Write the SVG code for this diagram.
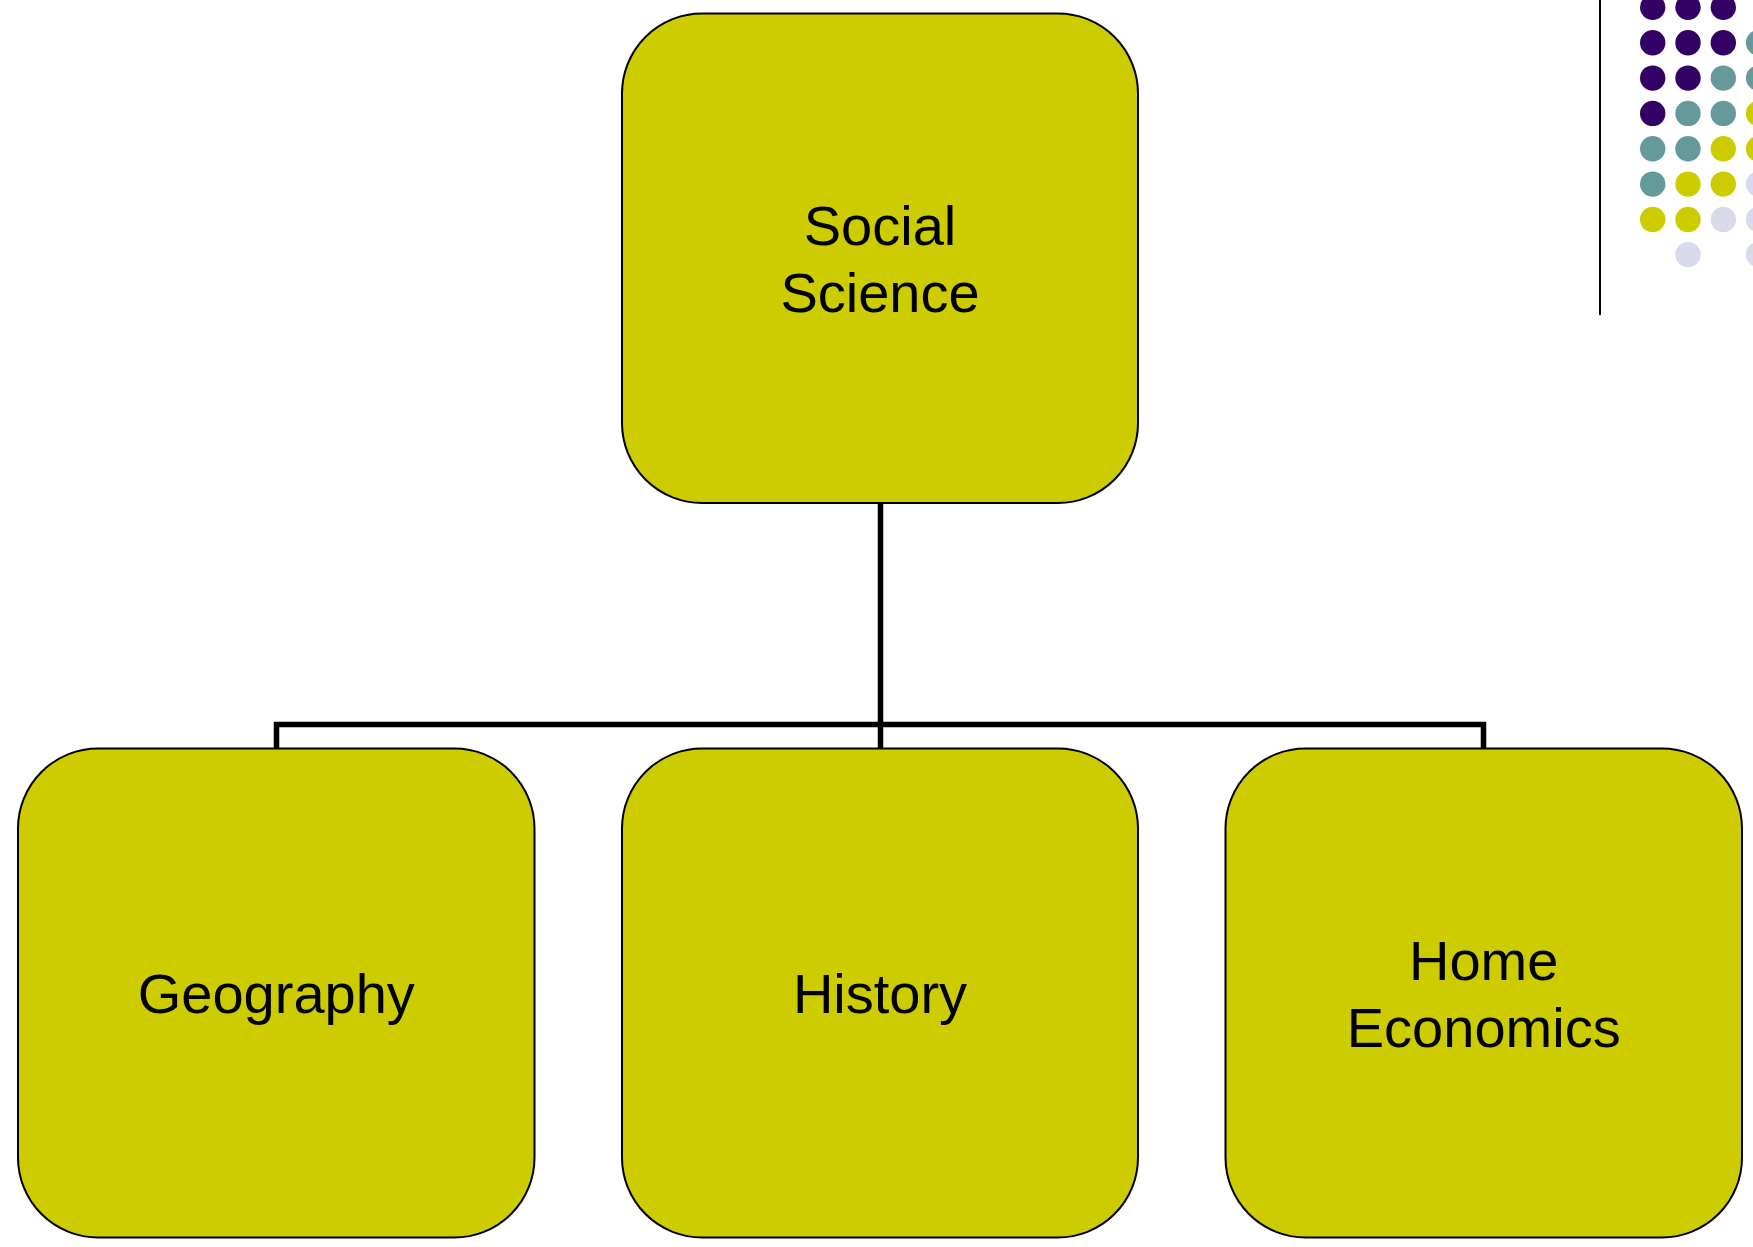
<svg xmlns="http://www.w3.org/2000/svg" width="1753" height="1247" viewBox="0 0 1753 1247">
<style>
.node{fill:#cccc00;stroke:#000;stroke-width:2}
.lbl{font-family:"Liberation Sans",Arial,sans-serif;font-size:56px;fill:#000;text-anchor:middle}
.conn{fill:none;stroke:#000;stroke-width:5.5;stroke-linejoin:miter}
.p{fill:#330066}.t{fill:#669999}.y{fill:#cccc00}.l{fill:#d9d9ec}
</style>
<rect width="1753" height="1247" fill="#fff"/>
<g id="decoration">
<line x1="1600" y1="0" x2="1600" y2="315" stroke="#000" stroke-width="2"/>
<g>
<circle class="p" cx="1652.7" cy="7.3" r="12.7"/><circle class="p" cx="1688" cy="7.3" r="12.7"/><circle class="p" cx="1723.3" cy="7.3" r="12.7"/>
<circle class="p" cx="1652.7" cy="42.7" r="12.7"/><circle class="p" cx="1688" cy="42.7" r="12.7"/><circle class="p" cx="1723.3" cy="42.7" r="12.7"/><circle class="t" cx="1758.6" cy="42.7" r="12.7"/>
<circle class="p" cx="1652.7" cy="78.1" r="12.7"/><circle class="p" cx="1688" cy="78.1" r="12.7"/><circle class="t" cx="1723.3" cy="78.1" r="12.7"/><circle class="t" cx="1758.6" cy="78.1" r="12.7"/>
<circle class="p" cx="1652.7" cy="113.4" r="12.7"/><circle class="t" cx="1688" cy="113.4" r="12.7"/><circle class="t" cx="1723.3" cy="113.4" r="12.7"/><circle class="y" cx="1758.6" cy="113.4" r="12.7"/>
<circle class="t" cx="1652.7" cy="148.8" r="12.7"/><circle class="t" cx="1688" cy="148.8" r="12.7"/><circle class="y" cx="1723.3" cy="148.8" r="12.7"/><circle class="y" cx="1758.6" cy="148.8" r="12.7"/>
<circle class="t" cx="1652.7" cy="184.1" r="12.7"/><circle class="y" cx="1688" cy="184.1" r="12.7"/><circle class="y" cx="1723.3" cy="184.1" r="12.7"/><circle class="l" cx="1758.6" cy="184.1" r="12.7"/>
<circle class="y" cx="1652.7" cy="219.4" r="12.7"/><circle class="y" cx="1688" cy="219.4" r="12.7"/><circle class="l" cx="1723.3" cy="219.4" r="12.7"/><circle class="l" cx="1758.6" cy="219.4" r="12.7"/>
<circle class="l" cx="1688" cy="254.6" r="12.7"/><circle class="l" cx="1758.6" cy="254.6" r="12.7"/>
</g>
</g>
<g id="connectors">
<path class="conn" d="M880.5 503 V724.5"/>
<path class="conn" d="M276.5 748 V724.5 H1483.5 V748"/>
<path class="conn" d="M880.5 724.5 V748"/>
</g>
<g id="node-social-science">
<rect class="node" x="622" y="13.5" width="516" height="489.5" rx="80" ry="80"/>
<text class="lbl" x="880" y="245">Social</text>
<text class="lbl" x="880" y="312">Science</text>
</g>
<g id="node-geography">
<rect class="node" x="18" y="748.5" width="516.5" height="489" rx="80" ry="80"/>
<text class="lbl" x="276.3" y="1013">Geography</text>
</g>
<g id="node-history">
<rect class="node" x="622" y="748.5" width="516" height="489" rx="80" ry="80"/>
<text class="lbl" x="880" y="1013">History</text>
</g>
<g id="node-home-economics">
<rect class="node" x="1225.5" y="748.5" width="516.5" height="489" rx="80" ry="80"/>
<text class="lbl" x="1483.7" y="980">Home</text>
<text class="lbl" x="1483.7" y="1047">Economics</text>
</g>
</svg>
